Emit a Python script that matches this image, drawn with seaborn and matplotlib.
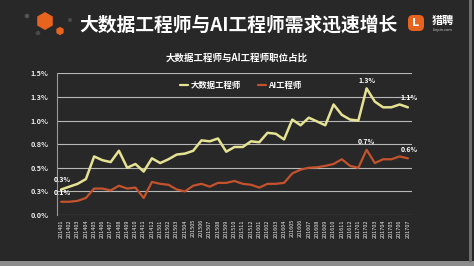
import matplotlib
matplotlib.use("Agg")
import matplotlib.pyplot as plt
import seaborn as sns
import pandas as pd
from matplotlib.patches import RegularPolygon, FancyBboxPatch, Rectangle

# ---------------- data ----------------
months = ["201401", "201402", "201403", "201404", "201405", "201406", "201407",
          "201408", "201409", "201410", "201411", "201412",
          "201501", "201502", "201503", "201504", "201505", "201506", "201507",
          "201508", "201509", "201510", "201511", "201512",
          "201601", "201602", "201603", "201604", "201605", "201606", "201607",
          "201608", "201609", "201610", "201611", "201612",
          "201701", "201702", "201703", "201704", "201705", "201706", "201707"]

bigdata = [0.27, 0.30, 0.33, 0.38, 0.62, 0.58, 0.56, 0.68, 0.50, 0.54, 0.46,
           0.60, 0.55, 0.59, 0.64, 0.65, 0.68, 0.79, 0.78, 0.81, 0.67, 0.72,
           0.72, 0.78, 0.77, 0.87, 0.86, 0.80, 1.01, 0.95, 1.03, 0.99, 0.95,
           1.17, 1.06, 1.01, 1.00, 1.34, 1.20, 1.14, 1.14, 1.17, 1.14]

ai = [0.14, 0.14, 0.15, 0.18, 0.28, 0.28, 0.26, 0.31, 0.28, 0.29, 0.18,
      0.35, 0.33, 0.32, 0.27, 0.25, 0.31, 0.33, 0.30, 0.34, 0.34, 0.36,
      0.33, 0.32, 0.29, 0.33, 0.33, 0.34, 0.44, 0.48, 0.50, 0.505, 0.52,
      0.54, 0.59, 0.52, 0.50, 0.69, 0.55, 0.59, 0.59, 0.62, 0.60]

series_names = ["大数据工程师", "AI工程师"]
y_ticks = [0.0, 0.25, 0.5, 0.75, 1.0, 1.25, 1.5]
y_ticklabels = ["0.0%", "0.3%", "0.5%", "0.8%", "1.0%", "1.3%", "1.5%"]

title = "大数据工程师与AI工程师需求迅速增长"
subtitle = "大数据工程师与AI工程师职位占比"

# ---------------- style ----------------
BG = "#282828"
YELLOW = "#e6e294"
ORANGE = "#c4532d"
GRID = "#b8b8b8"
TXT = "#ececec"

sns.set_theme(style="dark")
plt.rcParams["font.family"] = ["Noto Sans CJK SC", "DejaVu Sans"]
plt.rcParams["axes.unicode_minus"] = False

df = pd.DataFrame({
    "idx": list(range(len(months))) * 2,
    "value": bigdata + ai,
    "series": [series_names[0]] * len(months) + [series_names[1]] * len(months),
})

fig = plt.figure(figsize=(4.74, 2.66), dpi=100, facecolor=BG)

# decoration layer in pixel coords
deco = fig.add_axes([0, 0, 1, 1], zorder=0)
deco.set_xlim(0, 474)
deco.set_ylim(266, 0)
deco.axis("off")
deco.set_facecolor(BG)
deco.add_patch(Rectangle((0, 261), 474, 5, color="#8c8c8c", lw=0))
deco.add_patch(Rectangle((469.5, 0), 2.5, 262, color="#6e6e6e", lw=0))
# left logo
deco.add_patch(RegularPolygon((45, 21), 6, radius=9, color="#e8641e", lw=0))
deco.add_patch(RegularPolygon((60, 31), 6, radius=4.2, color="#e8641e", lw=0))
deco.add_patch(RegularPolygon((27, 16), 6, radius=2.5, color="#555555", lw=0))
deco.add_patch(RegularPolygon((38, 33), 6, radius=2.5, color="#4a4a4a", lw=0))
deco.add_patch(RegularPolygon((70, 20), 6, radius=2.2, color="#4a4a4a", lw=0))
# right logo
deco.add_patch(FancyBboxPatch((408, 15), 16, 16, boxstyle="round,pad=0,rounding_size=5",
                              color="#e8641e", lw=0))
deco.text(416, 23.5, "L", color="white", fontsize=8, fontweight="bold",
          ha="center", va="center", family="DejaVu Sans")
deco.text(443, 20.5, "猎聘", color="white", fontsize=8, fontweight="bold",
          ha="center", va="center")
deco.text(443, 30.5, "Liepin.com", color="#cccccc", fontsize=2.6,
          ha="center", va="center", family="DejaVu Sans")

fig.text(0.502, 1 - 25 / 266, title, color="white", fontsize=13.5,
         fontweight="heavy", ha="center", va="center")
fig.text(0.499, 1 - 57.5 / 266, subtitle, color="white", fontsize=6.8,
         fontweight="bold", ha="center", va="center")

# main axes
ax = fig.add_axes([57 / 474, 1 - 215 / 266, 355 / 474, 141.7 / 266], zorder=1)
ax.set_facecolor("none")
sns.lineplot(data=df, x="idx", y="value", hue="series", hue_order=series_names,
             palette=[YELLOW, ORANGE], ax=ax, linewidth=1.6, legend=True)
for ln, lw in zip(ax.lines, [1.8, 1.6]):
    ln.set_linewidth(lw)
    ln.set_solid_joinstyle("round")
    ln.set_solid_capstyle("round")

ax.set_xlim(-0.5, len(months) - 0.5)
ax.set_ylim(0, 1.5)
ax.set_yticks(y_ticks)
ax.set_yticklabels(y_ticklabels)
ax.set_xticks(range(len(months)))
ax.set_xticklabels(months, rotation=90)
ax.set_xlabel("")
ax.set_ylabel("")
ax.yaxis.grid(True, color=GRID, linewidth=0.8)
ax.xaxis.grid(False)
for s in ["top", "right", "bottom"]:
    ax.spines[s].set_visible(False)
ax.spines["left"].set_visible(True)
ax.spines["left"].set_color("#9a9a9a")
ax.spines["left"].set_linewidth(0.8)
ax.tick_params(axis="y", colors=TXT, labelsize=5.2, length=0, pad=6)
ax.tick_params(axis="x", colors=TXT, labelsize=4.0, length=0, pad=3)
for t in ax.get_yticklabels():
    t.set_fontweight("bold")

leg = ax.legend(loc="upper left", bbox_to_anchor=(0.325, 1.0), ncol=2,
                frameon=False, fontsize=6, handlelength=1.0, handletextpad=0.3,
                columnspacing=2.0, labelcolor="white")
for t in leg.get_texts():
    t.set_fontweight("bold")

# data labels
lab_kw = dict(color="white", fontsize=5, fontweight="bold", ha="center",
              va="center", textcoords="offset points")
ax.annotate("0.3%", xy=(0, bigdata[0]), xytext=(1, 7), **lab_kw)
ax.annotate("0.1%", xy=(0, ai[0]), xytext=(1, 7), **lab_kw)
ax.annotate("1.3%", xy=(37, bigdata[37]), xytext=(0, 6), **lab_kw)
ax.annotate("1.1%", xy=(42, bigdata[42]), xytext=(1, 7), **lab_kw)
ax.annotate("0.7%", xy=(37, ai[37]), xytext=(0, 6), **lab_kw)
ax.annotate("0.6%", xy=(42, ai[42]), xytext=(1, 6), **lab_kw)

fig.savefig("out.png", dpi=100, facecolor=BG)
